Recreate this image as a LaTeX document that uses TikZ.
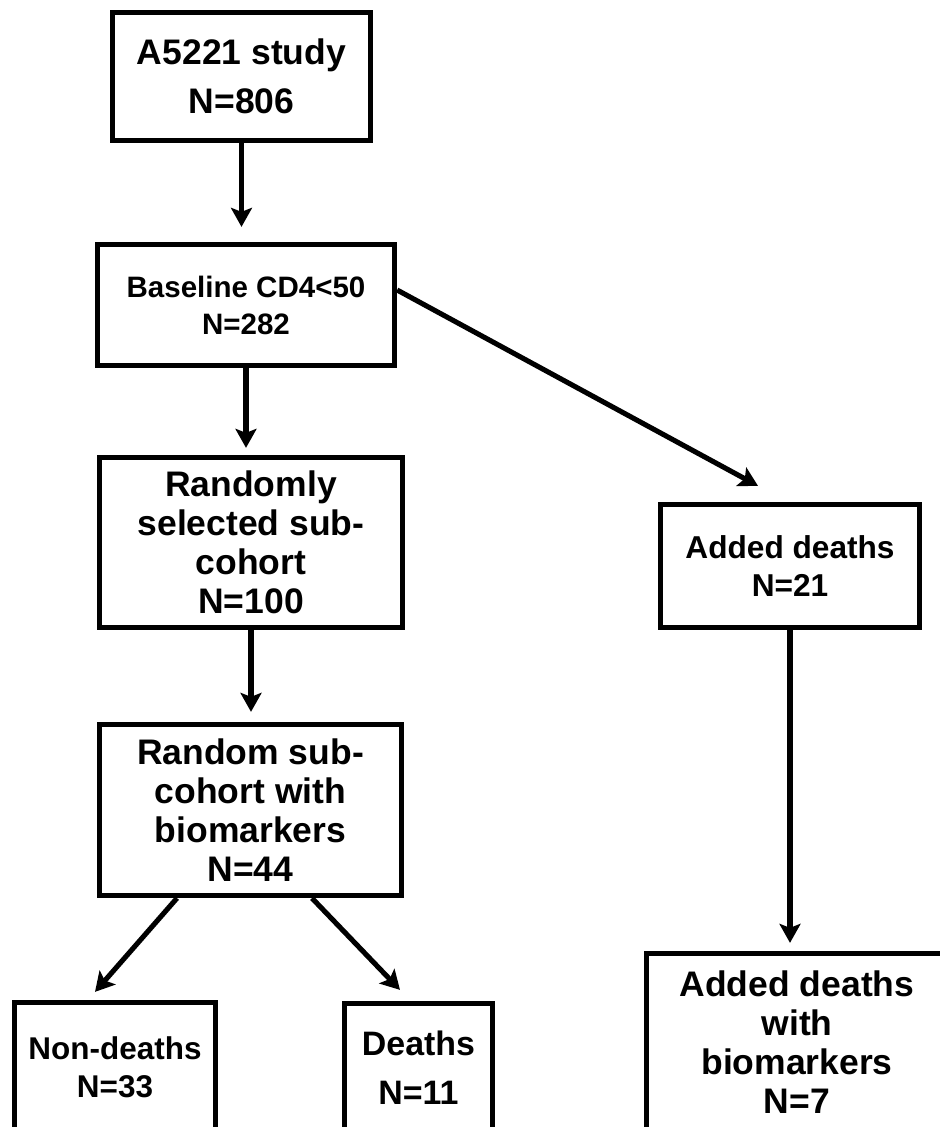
\documentclass[tikz,border=0pt]{standalone}
\usepackage{fontspec}
\setmainfont{Liberation Sans}
\usetikzlibrary{arrows.meta}
\tikzstyle{box} = [draw=black, line width=3pt, align=center, inner sep=0pt]
\tikzstyle{arrow} = [-{Stealth[length=3.8mm, width=4.2mm, inset=0.8mm]}, line width=2.9pt, black]
\tikzstyle{bigfont} = [font=\bfseries\fontsize{20.2}{22.1}\selectfont]
\tikzstyle{midfont} = [font=\bfseries\fontsize{17.9}{21.5}\selectfont]
\tikzstyle{smallfont} = [font=\bfseries\fontsize{16.8}{21}\selectfont]

\begin{document}
\begin{tikzpicture}
\useasboundingbox (0,0) rectangle (18.8,-22.54);
\clip (0,0) rectangle (18.8,-22.54);

% left column
\node[box, bigfont, font=\bfseries\fontsize{20.2}{27.8}\selectfont, minimum width=5.16cm, minimum height=2.56cm] (study) at (4.83,-1.53) {A5221 study\\N=806};
\node[box, smallfont, minimum width=5.94cm, minimum height=2.42cm] (baseline) at (4.92,-6.10) {Baseline CD4<50\\N=282};
\node[box, bigfont, minimum width=6.06cm, minimum height=3.40cm] (subcohort) at (5.02,-10.85) {Randomly\\selected sub-\\cohort\\N=100};
\node[box, bigfont, minimum width=6.04cm, minimum height=3.42cm] (subbio) at (5.01,-16.20) {Random sub-\\cohort with\\biomarkers\\N=44};
\node[box, midfont, minimum width=4.02cm, minimum height=2.60cm] (nondeaths) at (2.30,-21.35) {Non-deaths\\N=33};
\node[box, font=\bfseries\fontsize{19.3}{27.8}\selectfont, minimum width=2.96cm, minimum height=2.58cm] (deaths) at (8.37,-21.36) {Deaths\\N=11};

% right column
\node[box, midfont, font=\bfseries\fontsize{18}{21.5}\selectfont, minimum width=5.18cm, minimum height=2.46cm] (added) at (15.80,-11.32) {Added deaths\\N=21};
\node[box, bigfont, minimum width=6.02cm, minimum height=3.54cm] (addedbio) at (15.94,-20.84) {Added deaths\\with\\biomarkers\\N=7};

% arrows
\draw[arrow, shorten >=0.3cm] (study.south) -- (study.south |- baseline.north);
\draw[arrow, shorten >=0.14cm] (baseline.south) -- (baseline.south |- subcohort.north);
\draw[arrow, shorten >=0.2cm] (subcohort.south) -- (subcohort.south |- subbio.north);
\draw[arrow] ([yshift=0.3cm]baseline.east) -- ([xshift=-0.64cm,yshift=0.32cm]added.north);
\draw[arrow] ([xshift=-1.47cm]subbio.south) -- ([xshift=-0.4cm,yshift=0.16cm]nondeaths.north);
\draw[arrow] ([xshift=1.23cm]subbio.south) -- ([xshift=-0.37cm,yshift=0.22cm]deaths.north);
\draw[arrow, shorten >=0.16cm] (added.south) -- (added.south |- addedbio.north);
\end{tikzpicture}
\end{document}
